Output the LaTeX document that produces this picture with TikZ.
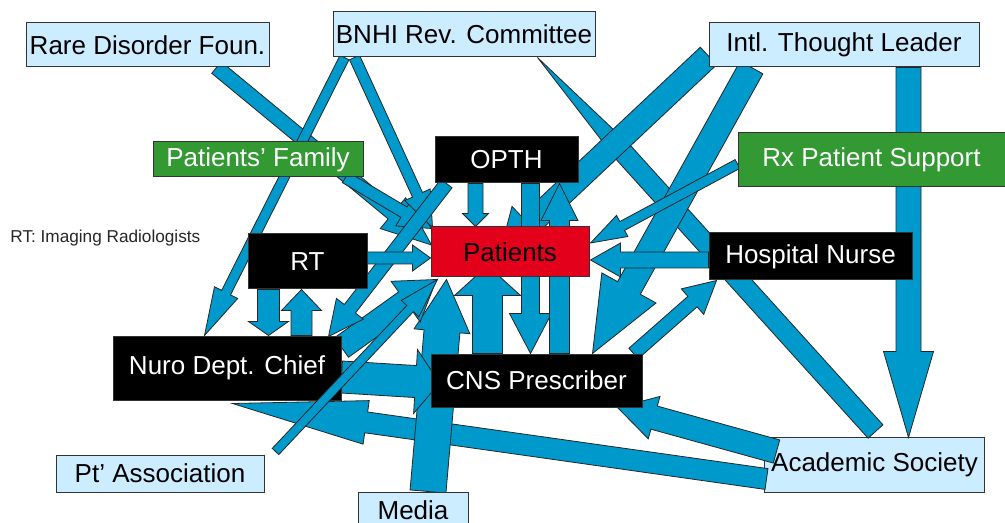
\documentclass[tikz,border=0pt]{standalone}
\usepackage{fontspec}
\setmainfont{Liberation Sans}
\usetikzlibrary{calc}
\definecolor{flowblue}{RGB}{0,153,204}
\definecolor{paleblue}{RGB}{204,236,255}
\definecolor{boxgreen}{RGB}{51,153,51}
\definecolor{boxred}{RGB}{226,0,26}
\pgfdeclarelayer{back}
\pgfdeclarelayer{arrowlayer}
\pgfdeclarelayer{front}
\pgfsetlayers{back,arrowlayer,main,front}
\tikzset{
  box/.style={rectangle, inner sep=0pt, draw=black!80, line width=0.5pt,
    font=\fontsize{13}{15}\selectfont},
  palebox/.style={box, fill=paleblue, text=black},
  greenbox/.style={box, fill=boxgreen, text=white},
  blackbox/.style={box, fill=black, text=white},
  redbox/.style={box, fill=boxred, text=black},
  flowarrow/.style={fill=flowblue, draw=black!85, line width=0.4pt, line join=miter},
}
% block arrow: tail, tip, shaft width, head width, head length (all in px units)
\newcommand{\flow}[5]{%
  \pgfmathsetmacro\fs{0.25*#3}%
  \pgfmathsetmacro\fh{0.25*#4}%
  \pgfmathsetmacro\fl{0.5*#5}%
  \coordinate (fb) at ($(#2)!\fl pt!(#1)$);
  \filldraw[flowarrow] ($(#1)!\fs pt!90:(#2)$) -- ($(fb)!\fs pt!90:(#2)$)
    -- ($(fb)!\fh pt!90:(#2)$) -- (#2) -- ($(fb)!\fh pt!-90:(#2)$)
    -- ($(fb)!\fs pt!-90:(#2)$) -- ($(#1)!\fs pt!-90:(#2)$) -- cycle;
}
\begin{document}
\begin{tikzpicture}[x=0.5pt,y=-0.5pt]
\useasboundingbox (0,0) rectangle (1005,523);

% stakeholder boxes
\node[palebox, minimum width=121.5pt, minimum height=22pt] (rare) at (147.5,45) {Rare Disorder Foun.};
\node[palebox, minimum width=131pt, minimum height=22.5pt] (bnhi) at (464,34.5) {BNHI Rev. Committee};
\node[palebox, minimum width=135pt, minimum height=22pt] (intl) at (844,45) {Intl. Thought Leader};
\node[greenbox, minimum width=105pt, minimum height=17.5pt] (family) at (258,159.5) {Patients’ Family};
\node[blackbox, minimum width=71.5pt, minimum height=23pt] (opth) at (506.5,160) {OPTH};
\node[greenbox, minimum width=133.5pt, minimum height=27pt] (rx) at (871.5,160) {Rx Patient Support};
\node[blackbox, minimum width=59.5pt, minimum height=27.5pt] (rt) at (307.5,261.5) {RT};
\node[redbox, minimum width=79pt, minimum height=25pt] (patients) at (510,252) {Patients};
\node[blackbox, minimum width=101.5pt, minimum height=23.5pt] (nurse) at (810.5,256.5) {Hospital Nurse};
\node[blackbox, minimum width=114pt, minimum height=32pt] (nuro) at (227,368) {Nuro Dept. Chief};
\node[blackbox, minimum width=105.5pt, minimum height=26.5pt] (cns) at (536.5,380.5) {CNS Prescriber};
\node[palebox, minimum width=104pt, minimum height=18.5pt] (ptassoc) at (160,473.5) {Pt’ Association};
\node[palebox, minimum width=55pt, minimum height=18pt] (media) at (413,510) {Media};
\node[box, draw=none, text=black, minimum width=109.5pt, minimum height=27pt] (academic) at (874.5,465) {Academic Society};
\node[anchor=west, inner sep=0pt, text=black!85, font=\fontsize{8.6}{10}\selectfont] (note) at (10,238) {RT: Imaging Radiologists};

\begin{pgfonlayer}{back}
  \filldraw[fill=paleblue, draw=black!80, line width=0.5pt] (academic.south west) rectangle (academic.north east);
\end{pgfonlayer}

% arrow end points
\coordinate (a1) at ($(rare.south west)+(191,0)$);
\coordinate (b1) at ($(patients.west)+(1,-7)$);
\coordinate (a2) at ($(family.south east)+(-18,0)$);
\coordinate (b2) at ($(patients.north west)+(1,2)$);
\coordinate (a3) at ($(bnhi.south west)+(12,0)$);
\coordinate (b3) at ($(nuro.north west)+(92,0)$);
\coordinate (a4) at ($(bnhi.south west)+(22,0)$);
\coordinate (b4) at ($(patients.north west)+(2,1)$);
\coordinate (a5) at ($(academic.north west)+(111,-6)$);
\coordinate (b5) at ($(bnhi.south west)+(205,0)$);
\coordinate (a6) at ($(intl.west)+(0,11)$);
\coordinate (b6) at ($(patients.center)+(-10,0)$);
\coordinate (a7) at ($(intl.south west)+(43,0)$);
\coordinate (b7) at ($(cns.north west)+(162,0)$);
\coordinate (a8) at ($(intl.south west)+(200,0)$);
\coordinate (b8) at ($(academic.north west)+(144,0)$);
\coordinate (a9) at ($(rx.west)+(0,4)$);
\coordinate (b9) at ($(patients.east)+(1,-9)$);
\coordinate (a10) at ($(nurse.west)+(0,3.5)$);
\coordinate (b10) at ($(patients.east)+(1,8)$);
\coordinate (a11) at ($(cns.north east)+(-9,0)$);
\coordinate (b11) at ($(nurse.south west)+(8,0)$);
\coordinate (a12) at ($(academic.north west)+(12,14)$);
\coordinate (b12) at ($(cns.south east)+(-25,0)$);
\coordinate (a13) at ($(academic.west)+(2,14)$);
\coordinate (b13) at ($(nuro.south west)+(120,3)$);
\coordinate (a14) at ($(ptassoc.north east)+(11,-3)$);
\coordinate (b14) at ($(patients.south west)+(7,2)$);
\coordinate (a15) at ($(media.north)+(15,0)$);
\coordinate (b15) at ($(patients.south west)+(16,2)$);
\coordinate (a16) at ($(nuro.north east)+(0,12)$);
\coordinate (b16) at ($(patients.south west)+(6,2)$);
\coordinate (a17) at ($(rt.east)+(0,-3.5)$);
\coordinate (b17) at ($(patients.west)+(0,6)$);
\coordinate (a18) at ($(rt.south west)+(21,0)$);
\coordinate (b18) at ($(nuro.north west)+(156,0)$);
\coordinate (a19) at ($(nuro.north west)+(189,0)$);
\coordinate (b19) at ($(rt.south west)+(54,0)$);
\coordinate (a20) at ($(opth.south west)+(41,0)$);
\coordinate (b20) at ($(patients.north west)+(45,0)$);
\coordinate (a21) at ($(opth.south west)+(96,0)$);
\coordinate (b21) at ($(cns.north west)+(100,0)$);
\coordinate (a22) at ($(cns.north west)+(129,0)$);
\coordinate (b22) at ($(opth.south west)+(125,0)$);
\coordinate (a23) at ($(cns.north west)+(57,0)$);
\coordinate (b23) at ($(patients.south west)+(57,-12)$);
\coordinate (a24) at ($(nuro.east)+(0,9)$);
\coordinate (b24) at ($(cns.west)+(9,2.5)$);
\coordinate (a25) at ($(opth.south west)+(12,0)$);
\coordinate (b25) at ($(nuro.north east)+(-13,1)$);

\begin{pgfonlayer}{arrowlayer}
  \flow{a5}{b5}{20}{20}{130}
  \flow{a8}{b8}{25}{50}{86}
  \flow{a13}{b13}{21}{44}{135}
  \flow{a12}{b12}{24}{44}{38}
  \flow{a15}{b15}{36}{56}{52}
  \flow{a24}{b24}{32}{64}{24}
  \flow{a16}{b16}{24}{50}{38}
  \flow{a7}{b7}{26}{62}{75}
  \flow{a6}{b6}{24}{50}{40}
  \flow{a11}{b11}{14}{34}{32}
  \flow{a10}{b10}{16}{34}{30}
  \flow{a9}{b9}{10}{24}{36}
  \flow{a1}{b1}{15}{40}{50}
  \flow{a2}{b2}{12}{32}{32}
  \flow{a3}{b3}{10}{26}{48}
  \flow{a4}{b4}{11}{28}{36}
  \flow{a25}{b25}{14}{34}{35}
  \flow{a17}{b17}{12}{26}{18}
  \flow{a18}{b18}{22}{40}{14}
  \flow{a19}{b19}{21}{40}{21}
  \flow{a20}{b20}{15}{26}{13}
  \flow{a21}{b21}{18}{42}{40}
  \flow{a22}{b22}{20}{37}{37}
  \flow{a23}{b23}{30}{66}{30}
\end{pgfonlayer}

\begin{pgfonlayer}{front}
  \flow{a14}{b14}{9}{24}{40}
\end{pgfonlayer}
\end{tikzpicture}
\end{document}
